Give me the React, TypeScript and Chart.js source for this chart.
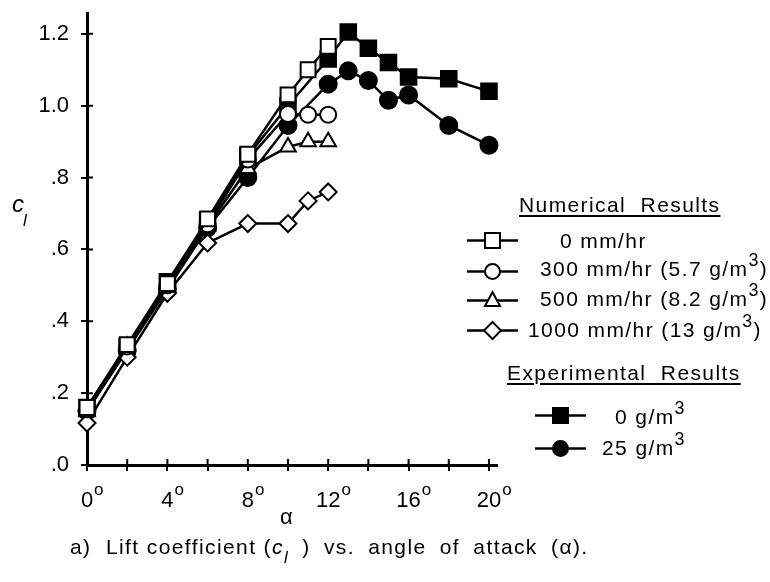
import React, { useEffect, useRef } from "react";
import { Chart, registerables } from "chart.js";

Chart.register(...registerables);

// ---- data ----
const numAlpha = [0, 2, 4, 6, 8, 10, 11, 12];
const num0 = [0.16, 0.335, 0.505, 0.685, 0.865, 1.03, 1.1, 1.165];
const num300 = [0.155, 0.33, 0.5, 0.67, 0.85, 0.977, 0.975, 0.975];
const num500 = [0.148, 0.33, 0.495, 0.665, 0.825, 0.885, 0.9, 0.9];
const num1000 = [0.117, 0.3, 0.478, 0.618, 0.672, 0.672, 0.735, 0.76];

const expAlpha = [0, 2, 4, 6, 8, 10, 12, 13, 14, 15, 16, 18, 20];
const exp0 = [0.16, 0.33, 0.51, 0.68, 0.86, 1.0, 1.13, 1.205, 1.16, 1.12, 1.08, 1.075, 1.04];
const exp25 = [0.15, 0.32, 0.49, 0.66, 0.8, 0.945, 1.06, 1.097, 1.07, 1.015, 1.03, 0.945, 0.89];

const xTicks = [0, 2, 4, 6, 8, 10, 12, 14, 16, 18, 20];
const xLabelled = [0, 4, 8, 12, 16, 20];
const degreeMark = "o";
const yTicks = [0, 0.2, 0.4, 0.6, 0.8, 1.0, 1.2];
const yTickLabels = [".0", ".2", ".4", ".6", ".8", "1.0", "1.2"];

const FONT = "'Liberation Sans', Arial, Helvetica, sans-serif";
const TICK_FONT_SIZE = 22;
const X_TICK_LEN = 6;
const X_TICK_PAD = 17;

const pts = (xs: number[], ys: number[]) => xs.map((x, i) => ({ x, y: ys[i] }));

const axisExtras = {
  id: "axisExtras",
  beforeDatasetsDraw(chart: any) {
    const { ctx, chartArea, scales } = chart;
    const x = scales.x;
    const y = scales.y;
    ctx.save();
    ctx.strokeStyle = "#000";
    ctx.lineWidth = 2;
    ctx.beginPath();
    x.ticks.forEach((t: any) => {
      const px = x.getPixelForValue(t.value);
      ctx.moveTo(px, chartArea.bottom);
      ctx.lineTo(px, chartArea.bottom - 6);
    });
    y.ticks.forEach((t: any) => {
      const py = y.getPixelForValue(t.value);
      ctx.moveTo(chartArea.left, py);
      ctx.lineTo(chartArea.left + 6, py);
    });
    ctx.stroke();
    // degree marks after the x tick labels
    ctx.fillStyle = "#000";
    ctx.textBaseline = "alphabetic";
    ctx.textAlign = "left";
    x.ticks.forEach((t: any) => {
      if (!xLabelled.includes(t.value)) return;
      ctx.font = `${TICK_FONT_SIZE}px ${FONT}`;
      const w = ctx.measureText(String(t.value)).width;
      const px = x.getPixelForValue(t.value);
      ctx.font = `17px ${FONT}`;
      ctx.fillText(degreeMark, px + w / 2 + 1, chartArea.bottom + X_TICK_LEN + X_TICK_PAD + 7);
    });
    ctx.restore();
  },
};

function Marker({ shape, filled }: { shape: string; filled?: boolean }) {
  const fill = filled ? "#000" : "#fff";
  let m: any = null;
  if (shape === "rect") m = <rect x={18} y={4} width={15} height={15} fill={fill} stroke="#000" strokeWidth={2} />;
  if (shape === "circle") m = <circle cx={25.5} cy={11.5} r={7.5} fill={fill} stroke="#000" strokeWidth={2} />;
  if (shape === "triangle") m = <polygon points="25.5,3 33,17 18,17" fill={fill} stroke="#000" strokeWidth={2} />;
  if (shape === "diamond") m = <polygon points="25.5,3 34,11.5 25.5,20 17,11.5" fill={fill} stroke="#000" strokeWidth={2} />;
  return (
    <svg width={51} height={23} style={{ display: "block" }}>
      <line x1={0} y1={11.5} x2={51} y2={11.5} stroke="#000" strokeWidth={2.5} />
      {m}
    </svg>
  );
}

const textStyle: React.CSSProperties = {
  position: "absolute",
  fontFamily: FONT,
  fontSize: 21,
  letterSpacing: "1.4px",
  color: "#000",
  whiteSpace: "pre",
  lineHeight: "24px",
  transform: "translateY(-50%)",
};

function Txt({ left, cy, children, underline }: any) {
  return (
    <div
      style={{
        ...textStyle,
        left,
        top: cy,
        textDecoration: underline ? "underline" : "none",
        textDecorationThickness: underline ? "2px" : undefined,
        textUnderlineOffset: underline ? "3px" : undefined,
      }}
    >
      {children}
    </div>
  );
}

function Mk({ left, cy, shape, filled }: any) {
  return (
    <div style={{ position: "absolute", left, top: cy - 11.5 }}>
      <Marker shape={shape} filled={filled} />
    </div>
  );
}

const Sup3 = () => <sup style={{ fontSize: "0.85em", verticalAlign: "0.55em", lineHeight: 0 }}>3</sup>;

export default function App() {
  const ref = useRef<HTMLCanvasElement | null>(null);
  useEffect(() => {
    if (!ref.current) return;
    const common = {
      borderColor: "#000",
      borderWidth: 2.5,
      pointBorderColor: "#000",
      pointBorderWidth: 2,
      showLine: true,
      clip: false as any,
    };
    const chart = new Chart(ref.current, {
      type: "scatter",
      data: {
        datasets: [
          { ...common, label: "0 mm/hr", data: pts(numAlpha, num0), pointStyle: "rect", pointRadius: 10.5, pointBackgroundColor: "#fff" },
          { ...common, label: "300 mm/hr", data: pts(numAlpha, num300), pointStyle: "circle", pointRadius: 8, pointBackgroundColor: "#fff" },
          { ...common, label: "500 mm/hr", data: pts(numAlpha, num500), pointStyle: "triangle", pointRadius: 9, pointBackgroundColor: "#fff" },
          { ...common, label: "1000 mm/hr", data: pts(numAlpha, num1000), pointStyle: "rectRot", pointRadius: 8.5, pointBackgroundColor: "#fff" },
          { ...common, label: "0 g/m3", data: pts(expAlpha, exp0), pointStyle: "rect", pointRadius: 11, pointBackgroundColor: "#000" },
          { ...common, label: "25 g/m3", data: pts(expAlpha, exp25), pointStyle: "circle", pointRadius: 8.5, pointBackgroundColor: "#000" },
        ] as any,
      },
      options: {
        animation: false,
        responsive: false,
        layout: { padding: { left: 0, top: 4, right: 273, bottom: 67 } },
        plugins: { legend: { display: false }, tooltip: { enabled: false }, title: { display: false } },
        scales: {
          x: {
            type: "linear",
            min: 0,
            max: 20.4,
            afterBuildTicks: (s: any) => {
              s.ticks = xTicks.map((v) => ({ value: v }));
            },
            afterFit: (s: any) => {
              s.height = 50;
              s.paddingLeft = 0;
              s.paddingRight = 0;
            },
            grid: { display: true, drawOnChartArea: false, drawTicks: true, tickLength: X_TICK_LEN, lineWidth: 2, color: "#000" },
            border: { display: true, width: 3, color: "#000" },
            ticks: {
              autoSkip: false,
              maxRotation: 0,
              padding: X_TICK_PAD,
              color: "#000",
              font: { family: FONT, size: TICK_FONT_SIZE },
              callback: (v: any) => (xLabelled.includes(Number(v)) ? `${v}` : ""),
            },
          },
          y: {
            type: "linear",
            min: 0,
            max: 1.258,
            afterBuildTicks: (s: any) => {
              s.ticks = yTicks.map((v) => ({ value: v }));
            },
            afterFit: (s: any) => {
              s.width = 87;
              s.paddingTop = 0;
              s.paddingBottom = 0;
            },
            grid: { display: true, drawOnChartArea: false, drawTicks: true, tickLength: 6, lineWidth: 2, color: "#000" },
            border: { display: true, width: 3, color: "#000" },
            ticks: {
              autoSkip: false,
              padding: 12,
              color: "#000",
              font: { family: FONT, size: TICK_FONT_SIZE },
              callback: (v: any) => yTickLabels[Math.round(Number(v) / 0.2)] ?? "",
            },
          },
        },
      },
      plugins: [axisExtras],
    });
    return () => chart.destroy();
  }, []);

  return (
    <div style={{ position: "fixed", left: 0, top: 0, width: 770, height: 582, background: "#fff", overflow: "hidden" }}>
      <canvas ref={ref} width={770} height={582} style={{ position: "absolute", left: 0, top: 0 }} />
      {/* y axis label */}
      <div style={{ ...textStyle, left: 12, top: 204, fontStyle: "italic", fontSize: 24 }}>c</div>
      <div style={{ ...textStyle, left: 23, top: 221, fontStyle: "italic", fontSize: 17 }}>l</div>
      {/* x axis label */}
      <div style={{ ...textStyle, left: 280, top: 517, fontSize: 22 }}>α</div>

      {/* legend */}
      <Txt left={519} cy={205} underline>Numerical  Results</Txt>
      <Mk left={467} cy={240} shape="rect" />
      <Txt left={560} cy={241}>0 mm/hr</Txt>
      <Mk left={467} cy={271} shape="circle" />
      <Txt left={540} cy={269}>300 mm/hr (5.7 g/m<Sup3 />)</Txt>
      <Mk left={467} cy={300} shape="triangle" />
      <Txt left={540} cy={299}>500 mm/hr (8.2 g/m<Sup3 />)</Txt>
      <Mk left={467} cy={330} shape="diamond" />
      <Txt left={528} cy={330}>1000 mm/hr (13 g/m<Sup3 />)</Txt>

      <Txt left={507} cy={373} underline>Experimental  Results</Txt>
      <Mk left={535} cy={415} shape="rect" filled />
      <Txt left={615} cy={417}>0 g/m<Sup3 /></Txt>
      <Mk left={535} cy={448} shape="circle" filled />
      <Txt left={602} cy={448}>25 g/m<Sup3 /></Txt>

      {/* caption */}
      <div style={{ ...textStyle, left: 70, top: 547 }}>
        a)  Lift coefficient (<i>c</i>
        <sub style={{ fontSize: "0.8em", verticalAlign: "-0.55em", lineHeight: 0 }}>
          <i>l</i>
        </sub>
        <span style={{ wordSpacing: "6px" }}> ) vs. angle of attack (α).</span>
      </div>
    </div>
  );
}
